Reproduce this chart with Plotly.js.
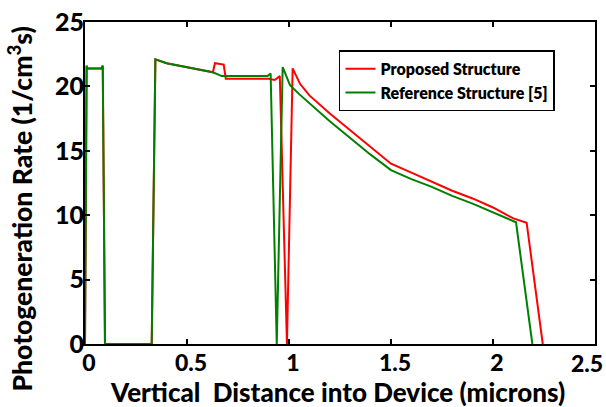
<!DOCTYPE html>
<html><head><meta charset="utf-8">
<script src="https://cdn.plot.ly/plotly-3.0.1.min.js"></script>
<style>html,body{margin:0;padding:0;background:#fff}#plot{width:606px;height:407px}</style>
</head><body><div id="plot"></div>
<script>
var proposedX = [0, 0.008, 0.012, 0.08, 0.087, 0.098, 0.327, 0.345, 0.4, 0.5, 0.6, 0.627, 0.637, 0.68, 0.69, 0.9, 0.93, 0.955, 0.99, 1.018, 1.054, 1.1, 1.2, 1.3, 1.4, 1.5, 1.6, 1.7, 1.8, 1.9, 2.0, 2.1, 2.165, 2.244];
var proposedY = [0, 21.6, 21.4, 21.4, 21.6, 0, 0, 22.1, 21.8, 21.5, 21.2, 21.1, 21.8, 21.7, 20.6, 20.6, 20.5, 20.8, 0, 21.4, 20.2, 19.3, 17.9, 16.6, 15.3, 14.0, 13.3, 12.6, 11.9, 11.3, 10.6, 9.75, 9.42, 0];
var referenceX = [0, 0.008, 0.012, 0.08, 0.087, 0.098, 0.327, 0.345, 0.4, 0.5, 0.6, 0.627, 0.67, 0.895, 0.91, 0.94, 0.969, 1.005, 1.05, 1.1, 1.2, 1.3, 1.4, 1.5, 1.6, 1.7, 1.8, 1.9, 2.0, 2.113, 2.193];
var referenceY = [0, 21.6, 21.4, 21.4, 21.6, 0, 0, 22.1, 21.8, 21.5, 21.2, 21.1, 20.8, 20.8, 21.0, 0, 21.5, 20.1, 19.4, 18.7, 17.3, 16.0, 14.7, 13.5, 12.8, 12.2, 11.5, 10.9, 10.2, 9.45, 0];
var seriesNames = ['Proposed Structure', 'Reference Structure [5]'];
var xTicks = [0, 0.5, 1, 1.5, 2, 2.5];
var xTickText = ['0', '0.5', '1', '1.5', '2', ''];
var lastXTickLabel = '2.5';
var yTicks = [0, 5, 10, 15, 20, 25];
var yTickText = ['0', '5', '10', '15', '20', '25'];
var xTitle = 'Vertical  Distance into Device (microns)';
var yTitle = 'Photogeneration Rate (1/cm<sup>3</sup>s)';

var F = 'Lato, sans-serif';
var W = 900;
var traces = [
  {x: proposedX, y: proposedY, name: seriesNames[0], mode: 'lines', line: {color: '#ff0000', width: 2}},
  {x: referenceX, y: referenceY, name: seriesNames[1], mode: 'lines', line: {color: '#008000', width: 2}}
];
var layout = {
  width: 606, height: 407,
  margin: {l: 85, r: 11, t: 22, b: 63},
  paper_bgcolor: '#fff', plot_bgcolor: '#fff',
  showlegend: true,
  legend: {x: 0.498, y: 0.912, xanchor: 'left', yanchor: 'top', bgcolor: '#fff', bordercolor: '#000', borderwidth: 1.5,
    font: {family: F, size: 16, color: '#000', weight: 800}, tracegroupgap: 0, itemwidth: 30},
  xaxis: {range: [0, 2.5001], tickvals: xTicks, ticktext: xTickText, ticks: 'inside', ticklen: 5, tickwidth: 2, tickcolor: '#000',
    ticklabelshift: 4, ticklabelstandoff: -3,
    showline: true, linecolor: '#000', linewidth: 2, mirror: 'ticks', showgrid: false, zeroline: false,
    tickfont: {family: F, size: 23, color: '#000', weight: W}},
  yaxis: {range: [0, 25.001], tickvals: yTicks, ticktext: yTickText, ticks: 'inside', ticklen: 5, tickwidth: 2, tickcolor: '#000',
    ticklabelstandoff: -6,
    showline: true, linecolor: '#000', linewidth: 2, mirror: 'ticks', showgrid: false, zeroline: false,
    tickfont: {family: F, size: 25, color: '#000', weight: W}},
  annotations: [
    {text: lastXTickLabel, xref: 'x', yref: 'paper', x: 2.5, y: 0, xanchor: 'right', yanchor: 'top', xshift: 10, yshift: -3,
      showarrow: false, font: {family: F, size: 23, color: '#000', weight: W}},
    {text: xTitle, xref: 'paper', yref: 'paper', x: 0.495, y: -0.148, xanchor: 'center', yanchor: 'middle',
      showarrow: false, font: {family: F, size: 26, color: '#000', weight: W}},
    {text: yTitle, xref: 'paper', yref: 'paper', x: -0.126, y: 0.42, xanchor: 'center', yanchor: 'middle', textangle: -90,
      showarrow: false, font: {family: F, size: 26.5, color: '#000', weight: W}}
  ]
};
Plotly.newPlot('plot', traces, layout, {staticPlot: true, displayModeBar: false});
</script></body></html>
